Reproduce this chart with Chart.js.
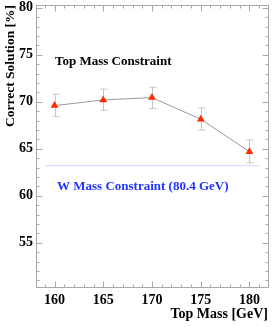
<!DOCTYPE html>
<html>
<head>
<meta charset="utf-8">
<script src="https://cdn.jsdelivr.net/npm/chart.js@4"></script>
<style>
  html, body { margin: 0; padding: 0; background: #fff; }
  #wrap { width: 276px; height: 327px; }
</style>
</head>
<body>
<div id="wrap"><canvas id="chart" width="276" height="327"></canvas></div>
<script>
// values
const topMass = [160, 165, 170, 175, 180];
const correctSolution = [69.6, 70.2, 70.45, 68.15, 64.7];
const errUp = [1.2, 1.15, 1.1, 1.2, 1.25];
const errDown = [1.15, 1.1, 1.15, 1.15, 1.2];
const wMassX = [159.1, 181.05];
const wMassY = [63.2, 63.2];
const xTicks = [160, 165, 170, 175, 180];
const yTicks = [55, 60, 65, 70, 75, 80];
const xMinor = [159, 161, 162, 163, 164, 166, 167, 168, 169, 171, 172, 173, 174, 176, 177, 178, 179, 181];
const yMinor = [51, 52, 53, 54, 56, 57, 58, 59, 61, 62, 63, 64, 66, 67, 68, 69, 71, 72, 73, 74, 76, 77, 78, 79];

const serif = '"Liberation Serif", "DejaVu Serif", serif';

// frame, inward ticks on all four sides, error bars and the two labels
const framePlugin = {
  id: 'frame',
  beforeDatasetsDraw(chart) {
    const ctx = chart.ctx;
    const xs = chart.scales.x, ys = chart.scales.y;
    ctx.save();
    // error bars
    ctx.strokeStyle = '#c4c4c4';
    ctx.lineWidth = 1;
    topMass.forEach((m, i) => {
      const px = Math.round(xs.getPixelForValue(m)) + 0.5;
      const hi = ys.getPixelForValue(correctSolution[i] + errUp[i]);
      const lo = ys.getPixelForValue(correctSolution[i] - errDown[i]);
      ctx.beginPath();
      ctx.moveTo(px, hi); ctx.lineTo(px, lo);
      ctx.moveTo(px - 3, hi); ctx.lineTo(px + 4, hi);
      ctx.moveTo(px - 3, lo); ctx.lineTo(px + 4, lo);
      ctx.stroke();
    });
    ctx.restore();
  },
  afterDraw(chart) {
    const ctx = chart.ctx;
    const a = chart.chartArea;
    const xs = chart.scales.x, ys = chart.scales.y;
    ctx.save();
    ctx.strokeStyle = '#a8a8a8';
    ctx.lineWidth = 1;
    const L = Math.round(a.left) + 0.5, R = Math.round(a.right) + 0.5;
    const T = Math.round(a.top) + 0.5, B = Math.round(a.bottom) + 0.5;
    ctx.strokeRect(L, T, R - L, B - T);
    ctx.beginPath();
    const xt = (v, len) => {
      const p = Math.round(xs.getPixelForValue(v)) + 0.5;
      ctx.moveTo(p, B); ctx.lineTo(p, B - len);
      ctx.moveTo(p, T); ctx.lineTo(p, T + len);
    };
    const yt = (v, len) => {
      const p = Math.round(ys.getPixelForValue(v)) + 0.5;
      ctx.moveTo(L, p); ctx.lineTo(L + len, p);
      ctx.moveTo(R, p); ctx.lineTo(R - len, p);
    };
    xTicks.forEach(v => xt(v, 6));
    xMinor.forEach(v => xt(v, 3));
    yTicks.forEach(v => yt(v, 6));
    yMinor.forEach(v => yt(v, 3));
    ctx.stroke();

    // labels inside the frame
    ctx.textBaseline = 'middle';
    ctx.textAlign = 'left';
    ctx.font = 'bold 13px ' + serif;
    ctx.fillStyle = '#000';
    ctx.fillText('Top Mass Constraint', 55, 62);
    ctx.fillStyle = '#2233ff';
    ctx.fillText('W Mass Constraint (80.4 GeV)', 57, 187);
    ctx.restore();
  }
};

new Chart(document.getElementById('chart'), {
  type: 'scatter',
  data: {
    datasets: [
      {
        label: 'W Mass Constraint',
        data: wMassX.map((x, i) => ({ x: x, y: wMassY[i] })),
        showLine: true,
        borderColor: '#c8d2ff',
        borderWidth: 1,
        pointRadius: 0
      },
      {
        label: 'Top Mass Constraint',
        data: topMass.map((m, i) => ({ x: m, y: correctSolution[i] })),
        showLine: true,
        borderColor: '#9a9a9a',
        borderWidth: 1,
        pointStyle: 'triangle',
        pointRadius: 4.5,
        pointBackgroundColor: '#ff2a00',
        pointBorderColor: '#ff2a00',
        pointBorderWidth: 0
      }
    ]
  },
  options: {
    responsive: false,
    animation: false,
    layout: { padding: { top: 5, right: 8, left: 0, bottom: 0 } },
    plugins: {
      legend: { display: false },
      tooltip: { enabled: false }
    },
    scales: {
      x: {
        type: 'linear',
        min: 158.1,
        max: 181.9,
        afterBuildTicks: s => { s.ticks = xTicks.map(v => ({ value: v })); },
        afterFit: s => { s.height = 40; s.paddingLeft = 0; s.paddingRight = 0; },
        grid: { display: false, drawTicks: false },
        border: { display: false },
        ticks: {
          padding: 5,
          color: '#000',
          font: { family: serif, size: 14, weight: 'bold' }
        },
        title: {
          display: true,
          text: 'Top Mass [GeV]',
          align: 'end',
          color: '#000',
          padding: { top: 0, bottom: 4 },
          font: { family: serif, size: 14, weight: 'bold' }
        }
      },
      y: {
        min: 50.3,
        max: 80.3,
        afterBuildTicks: s => { s.ticks = yTicks.map(v => ({ value: v })); },
        afterFit: s => { s.width = 36; s.paddingTop = 0; s.paddingBottom = 0; },
        grid: { display: false, drawTicks: false },
        border: { display: false },
        ticks: {
          padding: 3,
          color: '#000',
          font: { family: serif, size: 14, weight: 'bold' }
        },
        title: {
          display: true,
          text: 'Correct Solution [%]',
          align: 'end',
          color: '#000',
          padding: { top: 2, bottom: 0 },
          font: { family: serif, size: 13.5, weight: 'bold' }
        }
      }
    }
  },
  plugins: [framePlugin]
});
</script>
</body>
</html>
